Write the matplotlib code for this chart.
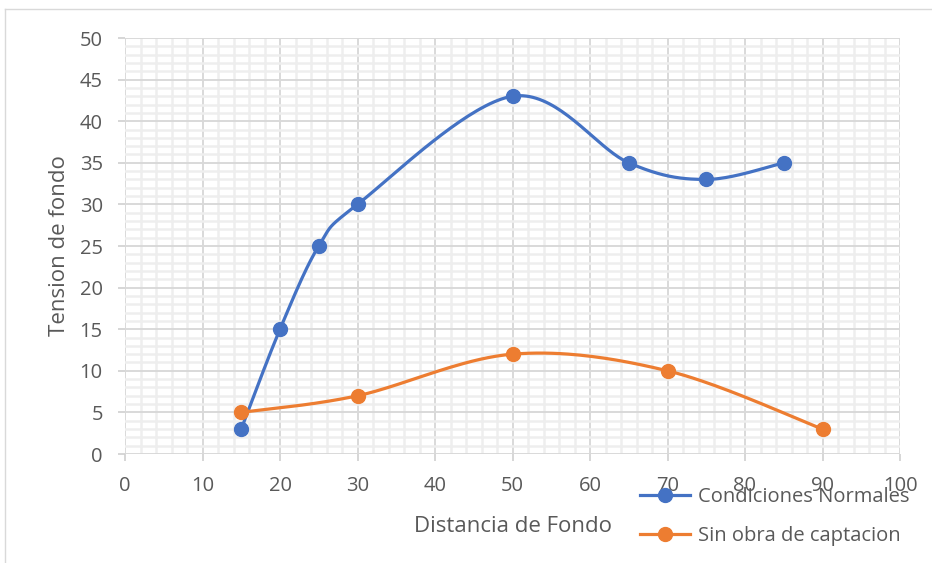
import numpy as np
import matplotlib.pyplot as plt
from matplotlib.lines import Line2D
from matplotlib.ticker import MultipleLocator

dist_normal = [15, 20, 25, 30, 50, 65, 75, 85]
tension_normal = [3, 15, 25, 30, 43, 35, 33, 35]
dist_sin = [15, 30, 50, 70, 90]
tension_sin = [5, 7, 12, 10, 3]

BLUE = "#4472C4"
ORANGE = "#ED7D31"
GRAY = "#595959"

plt.rcParams['font.family'] = ['Open Sans', 'DejaVu Sans']

fig = plt.figure(figsize=(9.32, 5.63), dpi=100)
ax = fig.add_axes([125 / 932, 1 - 454 / 563, 775 / 932, 416 / 563])
ax.set_xlim(0, 100)
ax.set_ylim(0, 50)


def smooth(ax, xs, ys, n=40):
    # Excel-like smoothing: Catmull-Rom bezier computed in display space
    pts = ax.transData.transform(np.column_stack([xs, ys]))
    p = np.vstack([pts[0], pts, pts[-1]])
    out = []
    for i in range(1, len(p) - 2):
        p0, p1, p2, p3 = p[i - 1], p[i], p[i + 1], p[i + 2]
        c1 = p1 + (p2 - p0) / 6
        c2 = p2 - (p3 - p1) / 6
        t = np.linspace(0, 1, n)[:, None]
        seg = ((1 - t) ** 3) * p1 + 3 * ((1 - t) ** 2) * t * c1 + 3 * (1 - t) * t ** 2 * c2 + t ** 3 * p2
        out.append(seg)
    curve = np.vstack(out)
    d = ax.transData.inverted().transform(curve)
    return d[:, 0], d[:, 1]


for xs, ys, c in [(dist_normal, tension_normal, BLUE), (dist_sin, tension_sin, ORANGE)]:
    sx, sy = smooth(ax, xs, ys)
    ax.plot(sx, sy, color=c, lw=2.3, zorder=3, solid_capstyle='round')
    ax.plot(xs, ys, 'o', color=c, ms=10, zorder=4)

ax.xaxis.set_major_locator(MultipleLocator(10))
ax.xaxis.set_minor_locator(MultipleLocator(2))
ax.yaxis.set_major_locator(MultipleLocator(5))
ax.yaxis.set_minor_locator(MultipleLocator(1))
ax.grid(which='minor', color='#EEEEEE', lw=1.8, zorder=0)
ax.grid(which='major', color='#D9D9D9', lw=1.4, zorder=1)
ax.set_axisbelow(True)
for s in ax.spines.values():
    s.set_visible(False)
ax.tick_params(which='major', length=5, width=1.2, color='#D0D0D0', labelcolor=GRAY, labelsize=14.5)
ax.tick_params(axis='x', pad=11)
ax.tick_params(axis='y', pad=11)
ax.tick_params(which='minor', length=0)
ax.set_ylabel("Tension de fondo", color=GRAY, fontsize=16, labelpad=7)
ax.set_xlabel("Distancia de Fondo", color=GRAY, fontsize=16, labelpad=14)

# legend sits over the tick labels, like in the original Excel chart
handles = [Line2D([], [], color=BLUE, lw=2.3, marker='o', ms=10),
           Line2D([], [], color=ORANGE, lw=2.3, marker='o', ms=10)]
fig.legend(handles, ["Condiciones Normales", "Sin obra de captacion"],
           loc='upper left', bbox_to_anchor=(622 / 932, 1 - 469 / 563),
           frameon=False, fontsize=14.5, labelcolor=GRAY, handlelength=2.5,
           handletextpad=0.35, labelspacing=0.95)

fig.add_artist(Line2D([5 / 932, 1], [1 - 9 / 563, 1 - 9 / 563], color='#D9D9D9', lw=1))
fig.add_artist(Line2D([5 / 932, 5 / 932], [0, 1 - 9 / 563], color='#D9D9D9', lw=1))

fig.savefig("out.png", dpi=100)
